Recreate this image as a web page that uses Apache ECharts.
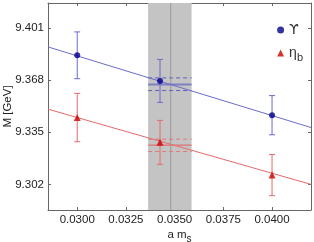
<!DOCTYPE html>
<html>
<head>
<meta charset="utf-8">
<script src="https://cdn.jsdelivr.net/npm/echarts@6/dist/echarts.min.js"></script>
<style>
html,body{margin:0;padding:0;background:#fff;}
#c{width:314px;height:242px;}
</style>
</head>
<body>
<div id="c"></div>
<script>
// ---- data ----
const xTicks = [0.0300, 0.0325, 0.0350, 0.0375, 0.0400];
const yTicks = [9.302, 9.335, 9.368, 9.401];
const xRange = [0.0285, 0.0420];
const yRange = [9.2858, 9.4168];

const amsValues = [0.0300, 0.03425, 0.0400];
const upsilonM = [9.3837, 9.3675, 9.3458];
const upsilonErr = [0.0148, 0.0136, 0.0124];
const etabM = [9.3443, 9.3286, 9.3079];
const etabErr = [0.0153, 0.0139, 0.0130];

const fitX = [0.0285, 0.0420];
const upsilonFit = [9.3890, 9.3380];
const etabFit = [9.3496, 9.3020];

const bandX = [0.03364, 0.03587];
const bandCenter = 0.0348;
const upsilonBand = [9.3614, 9.3653, 9.3694]; // low, central, high
const etabBand = [9.3228, 9.3268, 9.3306];

const seriesNames = ['ϒ', 'η_b'];

// ---- build ----
const FONT = 'Liberation Sans';
const BLUE = '#00008b', BLUE_L = '#6b6bcc';
const RED = '#cc0000', RED_L = '#e86a6a';

function pts(xs, ys) { return xs.map((x, i) => [x, ys[i]]); }
function errData(xs, ys, es) { return xs.map((x, i) => [x, ys[i] - es[i], ys[i] + es[i]]); }
function errSeries(data, color) {
  return {
    type: 'custom', data: data, z: 4, silent: true,
    encode: { x: 0, y: [1, 2] },
    renderItem: function (params, api) {
      const x = api.value(0);
      const lo = api.coord([x, api.value(1)]);
      const hi = api.coord([x, api.value(2)]);
      const w = 3;
      const st = { stroke: color, lineWidth: 1 };
      return { type: 'group', children: [
        { type: 'line', shape: { x1: lo[0], y1: lo[1], x2: hi[0], y2: hi[1] }, style: st },
        { type: 'line', shape: { x1: lo[0] - w, y1: lo[1], x2: lo[0] + w, y2: lo[1] }, style: st },
        { type: 'line', shape: { x1: hi[0] - w, y1: hi[1], x2: hi[0] + w, y2: hi[1] }, style: st }
      ]};
    }
  };
}
function hLine(y, color, width, dashed, z) {
  return {
    type: 'line', data: [[bandX[0], y], [bandX[1], y]], symbol: 'none', silent: true, z: z,
    lineStyle: { color: color, width: width, type: dashed ? [4, 3] : 'solid' }
  };
}

const axisCommon = {
  type: 'value', scale: true, nameMoveOverlap: false,
  axisLine: { show: true, onZero: false, lineStyle: { color: '#666', width: 1 } },
  splitLine: { show: false },
};

const option = {
  animation: false,
  backgroundColor: '#fff',
  grid: { left: 48, right: 3, top: 3, bottom: 32, containLabel: false, outerBoundsMode: 'none' },
  legend: {
    orient: 'vertical', right: 6, top: 18, itemGap: 9, itemWidth: 7, itemHeight: 7,
    data: [{ name: seriesNames[0], icon: 'circle' }, { name: seriesNames[1], icon: 'triangle' }],
    formatter: function (n) { return n === 'η_b' ? '{a|η}{b|b}' : '{u|' + n + '}'; },
    textStyle: {
      color: '#333', fontFamily: FONT,
      rich: {
        u: { fontSize: 14, fontFamily: 'DejaVu Sans', color: '#333' },
        a: { fontSize: 14, fontFamily: FONT, color: '#333' },
        b: { fontSize: 11, fontFamily: FONT, color: '#333', padding: [10, 0, 0, 0] }
      }
    }
  },
  xAxis: [
    Object.assign({}, axisCommon, {
      min: xRange[0], max: xRange[1], position: 'bottom',
      name: '{a|a m}{s|s}', nameLocation: 'middle', nameGap: 15,
      nameTextStyle: { verticalAlign: 'top', rich: { a: { fontFamily: FONT, fontSize: 11.5, color: '#222' }, s: { fontFamily: FONT, fontSize: 10, color: '#222', padding: [9, 0, 0, 0] } } },
      axisTick: { show: true, inside: true, length: 3, lineStyle: { color: '#666' }, customValues: xTicks },
      axisLabel: { customValues: xTicks, fontFamily: FONT, fontSize: 11.5, color: '#222', margin: 4,
        formatter: v => v.toFixed(4) }
    }),
    Object.assign({}, axisCommon, {
      min: xRange[0], max: xRange[1], position: 'top',
      axisTick: { show: true, inside: true, length: 3, lineStyle: { color: '#666' }, customValues: xTicks },
      axisLabel: { show: false }
    })
  ],
  yAxis: [
    Object.assign({}, axisCommon, {
      min: yRange[0], max: yRange[1], position: 'left',
      name: 'M [GeV]', nameLocation: 'middle', nameGap: 34,
      nameTextStyle: { fontFamily: FONT, fontSize: 11.5, color: '#222' },
      axisTick: { show: true, inside: true, length: 3, lineStyle: { color: '#666' }, customValues: yTicks },
      axisLabel: { customValues: yTicks, fontFamily: FONT, fontSize: 11.5, color: '#222', margin: 4,
        formatter: v => v.toFixed(3) }
    }),
    Object.assign({}, axisCommon, {
      min: yRange[0], max: yRange[1], position: 'right',
      axisTick: { show: true, inside: true, length: 3, lineStyle: { color: '#666' }, customValues: yTicks },
      axisLabel: { show: false }
    })
  ],
  series: [
    // shaded band
    {
      type: 'line', data: [], silent: true, z: 1,
      markArea: { silent: true, itemStyle: { color: '#c4c4c4', opacity: 1 },
        data: [[{ xAxis: bandX[0] }, { xAxis: bandX[1] }]] }
    },
    // central vertical line
    { type: 'line', data: [[bandCenter, yRange[0]], [bandCenter, yRange[1]]], symbol: 'none', silent: true, z: 2,
      lineStyle: { color: '#9a9a9a', width: 1 } },
    // fit lines
    { type: 'line', data: pts(fitX, upsilonFit), symbol: 'none', silent: true, z: 3, lineStyle: { color: BLUE_L, width: 1 } },
    { type: 'line', data: pts(fitX, etabFit), symbol: 'none', silent: true, z: 3, lineStyle: { color: RED_L, width: 1 } },
    // horizontal lines in band
    hLine(upsilonBand[1], '#7f7fc2', 2, false, 2),
    hLine(upsilonBand[0], '#6060b8', 1, true, 2),
    hLine(upsilonBand[2], '#6060b8', 1, true, 2),
    hLine(etabBand[1], '#e07070', 1.2, false, 2),
    hLine(etabBand[0], '#e07878', 1, true, 2),
    hLine(etabBand[2], '#e07878', 1, true, 2),
    // error bars
    errSeries(errData(amsValues, upsilonM, upsilonErr), BLUE_L),
    errSeries(errData(amsValues, etabM, etabErr), RED_L),
    // points
    { name: seriesNames[0], type: 'scatter', data: pts(amsValues, upsilonM), symbol: 'circle', symbolSize: 6, z: 5, itemStyle: { color: BLUE } },
    { name: seriesNames[1], type: 'scatter', data: pts(amsValues, etabM), symbol: 'triangle', symbolSize: 7, z: 5, itemStyle: { color: RED } }
  ]
};

const chart = echarts.init(document.getElementById('c'), null, { renderer: 'canvas' });
chart.setOption(option);
</script>
</body>
</html>
